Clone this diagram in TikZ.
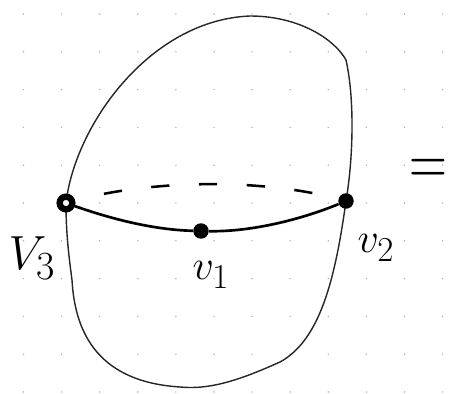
\documentclass[tikz,border=0pt]{standalone}
\usetikzlibrary{backgrounds}
\begin{document}
\begin{tikzpicture}[x=0.025cm,y=-0.025cm,
    vtx/.style={circle,inner sep=0pt},
    hollow/.style={vtx,draw,line width=4.5pt,minimum size=9pt,fill=white},
    filled/.style={vtx,fill,minimum size=11pt},
    edge/.style={line width=1.9pt},
    rim/.style={line width=1pt,black!85},
    hint/.style={line width=1.8pt,dash pattern=on 13pt off 21pt,dash phase=13pt},
    lab/.style={font=\Huge}]
    \useasboundingbox (0,0) rectangle (454,394);
    \node[hollow] (v3) at (66,203) {};
    \node[filled] (v2) at (346,201) {};
    \node[filled] (v1) at (201,231) {};
    \begin{scope}[on background layer]
    \foreach \i in {0,...,11}
        \foreach \j in {0,...,10}
            \fill[black!30] (23.5+38.1*\i,14+37.8*\j) circle (0.6pt);
    % the sphere
    \draw[rim] (v3.center) .. controls (75,125) and (150,20) .. (250,16)
        .. controls (300,16) and (335,40) .. (346,60)
        .. controls (355,100) and (353,160) .. (v2.center);
    \draw[rim] (v2.center) .. controls (335,280) and (320,340) .. (280,362)
        .. controls (240,380) and (210,390) .. (180,387)
        .. controls (100,382) and (75,335) .. (72,280)
        .. controls (68,250) and (66,230) .. (v3.center);
    \draw[edge] (v3) .. controls (120,222) and (160,230) .. (v1);
    \draw[edge] (v1) .. controls (250,232) and (300,220) .. (v2);
    \draw[hint] (v3) .. controls (150,180) and (260,178) .. (v2);
    \end{scope}
    \node[lab] (l3) at (32,258) {\scalebox{1.37}{$V_3$}};
    \node[lab] (l1) at (211,275) {\scalebox{1.2}{$v_1$}};
    \node[lab] (l2) at (376,248) {\scalebox{1.2}{$v_2$}};
    \node[lab] (eq) at (428,172) {\scalebox{1.5}[2.1]{$=$}};
\end{tikzpicture}
\end{document}
